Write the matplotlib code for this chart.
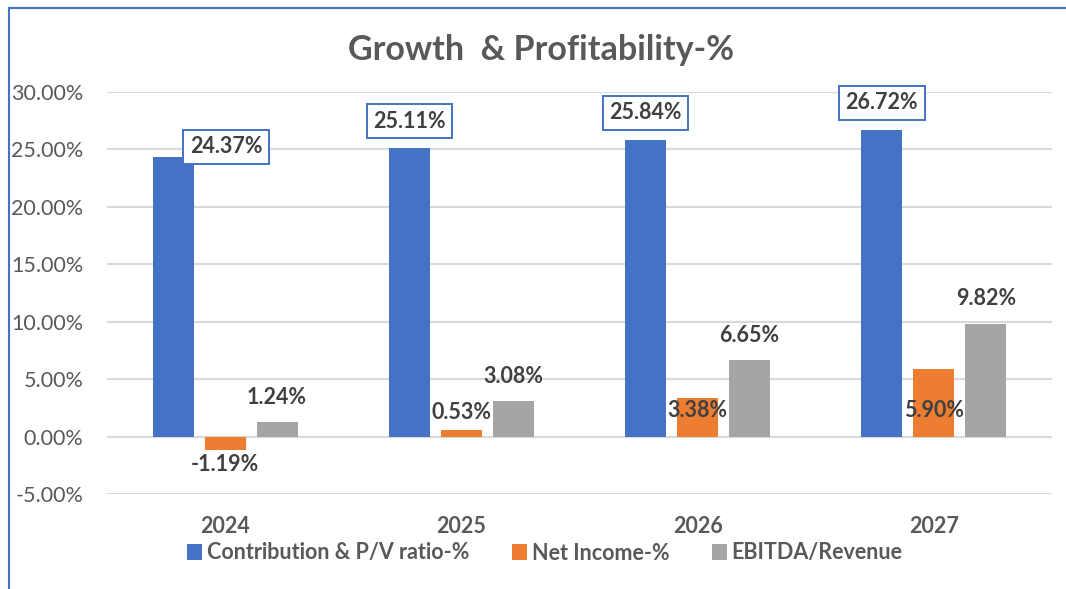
import matplotlib
matplotlib.use("Agg")
import matplotlib.pyplot as plt
import numpy as np
from matplotlib.patches import Patch
from matplotlib.lines import Line2D

years = ["2024", "2025", "2026", "2027"]
contribution = [24.37, 25.11, 25.84, 26.72]
net_income = [-1.19, 0.53, 3.38, 5.90]
ebitda = [1.24, 3.08, 6.65, 9.82]
series_names = ["Contribution & P/V ratio-%", "Net Income-%", "EBITDA/Revenue"]
colors = ["#4472C4", "#ED7D31", "#A5A5A5"]
yticks = [-5, 0, 5, 10, 15, 20, 25, 30]

# label placement (pixel offsets / fixed positions)
blue_label_dx = [53, 0, 0, 0]
blue_label_dy = [10, 27, 27, 27]
orange_label_y = [None, None, 2.27, 2.27]

plt.rcParams['font.family'] = ['Lato', 'DejaVu Sans']

W, H = 1066, 589
fig = plt.figure(figsize=(W / 100, H / 100), dpi=100)
ax = fig.add_axes([107 / W, 1 - 494 / H, (1052 - 107) / W, (494 - 92) / H])

x = np.arange(len(years))
bw = 0.174
step = 0.22
label_color = "#404040"
tick_color = "#595959"
fs = 15.5

bars_c = ax.bar(x - step, contribution, bw, color=colors[0], zorder=3)
bars_n = ax.bar(x, net_income, bw, color=colors[1], zorder=3)
bars_e = ax.bar(x + step, ebitda, bw, color=colors[2], zorder=3)

ax.set_xlim(-0.5, len(years) - 0.5)
ax.set_ylim(-5, 30)
ax.set_yticks(yticks)
ax.set_yticklabels([f"{t:.2f}%" for t in yticks])
ax.set_xticks(x)
ax.set_xticklabels(years, fontweight='bold')
ax.grid(axis='y', color='#D9D9D9', linewidth=1.5, zorder=0)
ax.axhline(0, color='#D9D9D9', linewidth=1.5, zorder=1)
for s in ax.spines.values():
    s.set_visible(False)
ax.tick_params(axis='both', length=0, labelsize=fs, colors=tick_color)
ax.tick_params(axis='y', pad=17)
ax.tick_params(axis='x', pad=16)

# blue labels with boxes
for i, b in enumerate(bars_c):
    v = contribution[i]
    ax.annotate(f"{v:.2f}%", (b.get_x() + b.get_width() / 2, v),
                xytext=(blue_label_dx[i], blue_label_dy[i]), textcoords='offset pixels',
                ha='center', va='center', fontsize=fs, fontweight='bold', color=label_color,
                bbox=dict(boxstyle='square,pad=0.3', fc='white', ec=colors[0], lw=1.4),
                zorder=5)

# orange labels
for i, b in enumerate(bars_n):
    v = net_income[i]
    cx = b.get_x() + b.get_width() / 2
    if orange_label_y[i] is not None:
        ax.text(cx, orange_label_y[i], f"{v:.2f}%", ha='center', va='center',
                fontsize=fs, fontweight='bold', color=label_color, zorder=5)
    elif v < 0:
        ax.annotate(f"{v:.2f}%", (cx, v), xytext=(0, -14), textcoords='offset pixels',
                    ha='center', va='center', fontsize=fs, fontweight='bold',
                    color=label_color, zorder=5)
    else:
        ax.annotate(f"{v:.2f}%", (cx, v), xytext=(0, 18), textcoords='offset pixels',
                    ha='center', va='center', fontsize=fs, fontweight='bold',
                    color=label_color, zorder=5)

# gray labels
for i, b in enumerate(bars_e):
    v = ebitda[i]
    ax.annotate(f"{v:.2f}%", (b.get_x() + b.get_width() / 2, v), xytext=(0, 25),
                textcoords='offset pixels', ha='center', va='center', fontsize=fs,
                fontweight='bold', color=label_color, zorder=5)

fig.text(541 / W, 1 - 50 / H, "Growth  & Profitability-%", ha='center', va='center',
         fontsize=24.5, fontweight='bold', color=tick_color)

handles = [Patch(facecolor=c, edgecolor='none') for c in colors]
fig.legend(handles, series_names, loc='center', bbox_to_anchor=(545 / W, 1 - 553 / H),
           ncol=3, frameon=False, handlelength=0.7, handleheight=0.7, handletextpad=0.2,
           columnspacing=2.0, prop=dict(size=fs, weight='bold'), labelcolor=tick_color)

# outer border (left and top)
fig.add_artist(Line2D([8.5 / W, 8.5 / W], [0, 1 - 7.5 / H], color=colors[0], lw=1.5,
                      transform=fig.transFigure))
fig.add_artist(Line2D([8.5 / W, 1], [1 - 7.5 / H, 1 - 7.5 / H], color=colors[0], lw=1.5,
                      transform=fig.transFigure))

fig.savefig("out.png", dpi=100, facecolor='white')
